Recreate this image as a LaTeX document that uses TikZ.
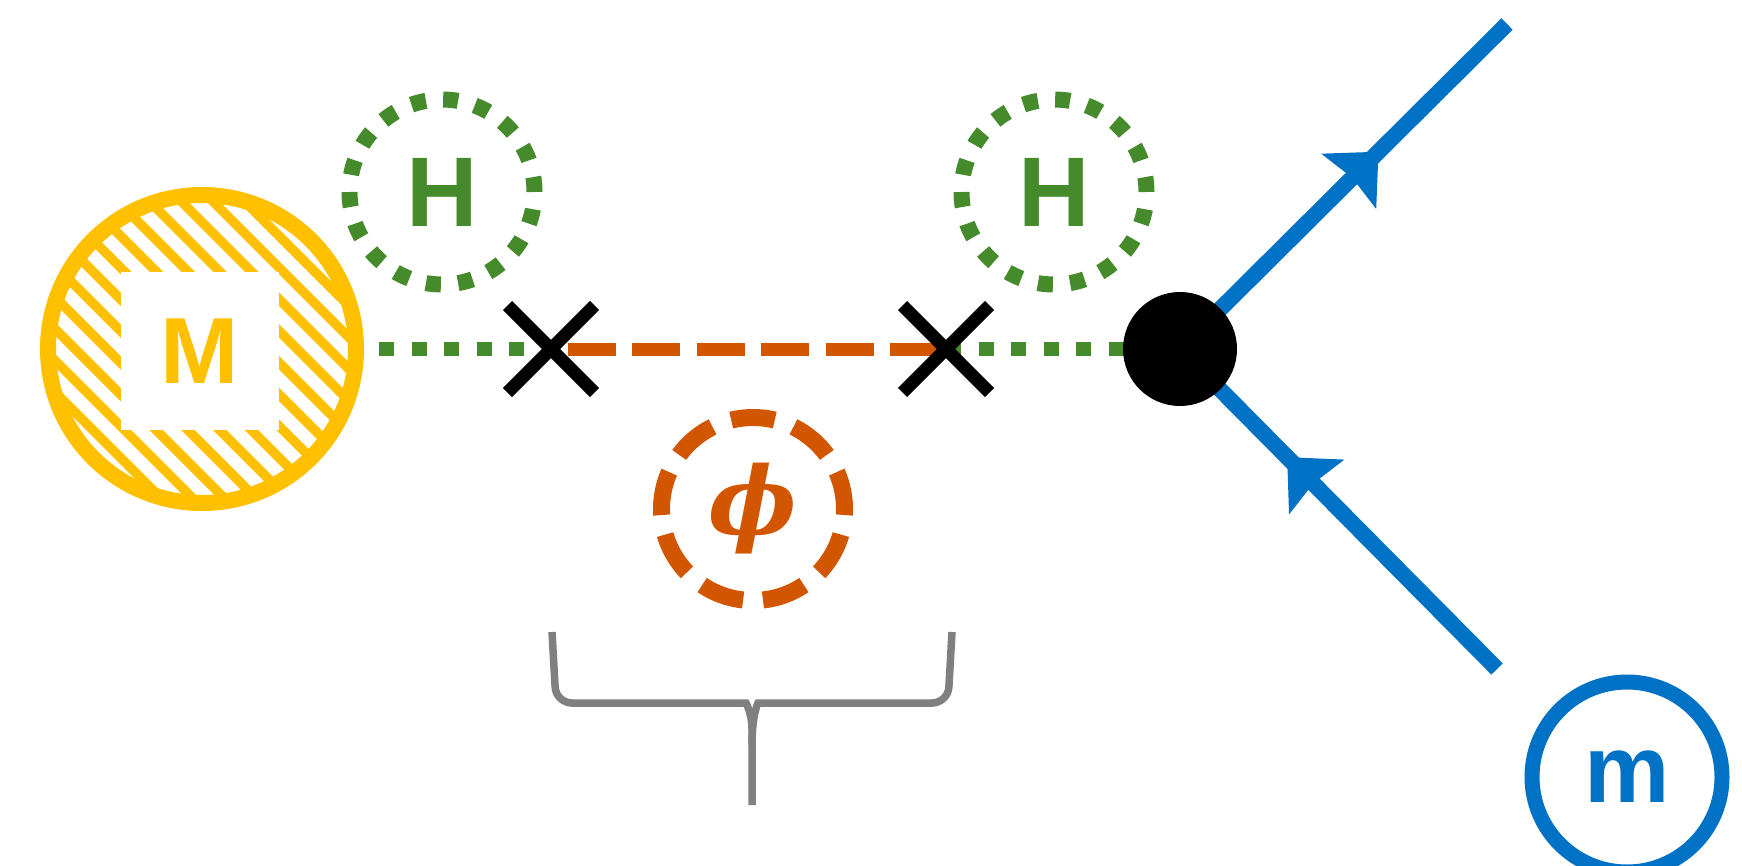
\documentclass[tikz,border=0pt]{standalone}
\usepackage{fontspec}
\newfontfamily\labelsans{Liberation Sans}
\newfontfamily\phifont{DejaVu Serif}
\usetikzlibrary{arrows.meta,decorations.markings,shapes.misc}

\definecolor{mgold}{HTML}{FFC000}
\definecolor{hgreen}{HTML}{458B2C}
\definecolor{phorange}{HTML}{D25500}
\definecolor{mblue}{HTML}{0072C6}
\definecolor{bracegray}{HTML}{808080}

\begin{document}
\begin{tikzpicture}[x=1pt,y=-1pt,
  bigletter/.style={font=\labelsans\bfseries\fontsize{#1}{#1}\selectfont},
  higgs/.style={circle, draw=hgreen, line width=16pt,
    dash pattern=on 15pt off 17.29pt, minimum size=185pt, inner sep=0pt,
    text=hgreen, bigletter=99},
  greenline/.style={draw=hgreen, line width=14pt, dash pattern=on 15pt off 17.5pt},
  orangeline/.style={draw=phorange, line width=13pt, dash pattern=on 48pt off 16.5pt},
  crossmark/.style={cross out, draw=black, line width=13pt, minimum size=74pt, inner sep=0pt},
  fermion/.style={draw=mblue, line width=16pt, postaction={decorate},
    decoration={markings, mark=at position #1 with
      {\arrow{Stealth[length=42pt, width=78pt, inset=5pt, line width=0pt]}}}},
  bracestyle/.style={draw=bracegray, line width=7.5pt}
]
\useasboundingbox (0,0) rectangle (1742,865);

% heavy source M: hatched disc with a white square label
\node[circle, draw=mgold, line width=16pt, minimum size=308pt, inner sep=0pt] (M) at (202,349) {};
\begin{scope}
  \clip (M.center) circle (148pt);
  \foreach \k in {-14,...,14}
    \draw[mgold, line width=9.5pt] ([xshift=\k*31.7pt-250pt, yshift=250pt]M.center) -- ++(500,500);
\end{scope}
\node[fill=white, minimum size=158pt, inner sep=0pt, text=mgold, bigletter=94] (Mt) at (200,351) {M};

% Higgs bubbles
\node[higgs] (H1) at (442,192) {H};
\node[higgs] (H2) at (1054,192) {H};

% mediator bubble
\node[circle, draw=phorange, line width=17pt, dash pattern=on 44pt off 19.88pt, dash phase=6pt,
  minimum size=183pt, inner sep=0pt, text=phorange,
  font=\phifont\bfseries\itshape\fontsize{94}{94}\selectfont] (phi) at (753,509) {\symbol{"03D5}};

% light state m
\node[circle, draw=mblue, line width=15pt, minimum size=190pt, inner sep=0pt,
  text=mblue, bigletter=96] (m) at (1627,777) {m};

% points along the propagator line
\coordinate (c1) at (551,349);
\coordinate (c2) at (946,349);
\coordinate (vc) at (1180,349);
\coordinate (fout) at (1507,24);
\coordinate (fin) at (1497,669);

% propagators
\draw[greenline, dash phase=17.5pt] (M.east) -- (c1);
\draw[orangeline, dash phase=48pt] (c1) -- (c2);
\draw[greenline] (c2) -- (vc);

% fermion legs
\draw[fermion=0.607] (vc) -- (fout);
\draw[fermion=0.662] (fin) -- (vc);

% insertions and vertex
\node[crossmark] (x1) at (c1) {};
\node[crossmark] (x2) at (c2) {};
\node[circle, fill=black, minimum size=114pt, inner sep=0pt] (v) at (vc) {};

% brace under the mediator
\coordinate (brL) at (552,632);
\coordinate (brR) at (952,632);
\coordinate (brTip) at (752,805);
\draw[bracestyle, rounded corners=16pt] (brL) -- (556,703) -- (730,703)
  .. controls (746,703) and (752,714) .. (752,745) -- (brTip);
\draw[bracestyle, rounded corners=16pt] (brR) -- (948,703) -- (774,703)
  .. controls (758,703) and (752,714) .. (752,745);
\end{tikzpicture}
\end{document}
